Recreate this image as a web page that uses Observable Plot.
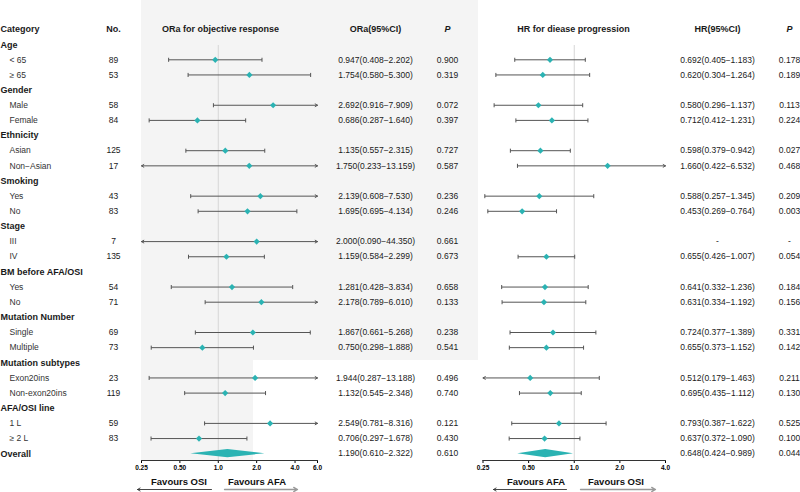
<!DOCTYPE html>
<html><head><meta charset="utf-8">
<script src="https://cdn.jsdelivr.net/npm/d3@7"></script>
<script src="https://cdn.jsdelivr.net/npm/@observablehq/plot@0.6"></script>
<style>
html,body{margin:0;padding:0;background:#fff;}
#chart{position:relative;width:800px;height:492px;overflow:hidden;}
#chart svg{position:absolute;left:0;top:0;}
.bg{position:absolute;background:#f4f4f4;}
</style></head><body>
<div id="chart">
<div class="bg" style="left:141px;top:0;width:337px;height:360px"></div>
<div class="bg" style="left:141px;top:360px;width:112px;height:100px"></div>
</div>
<script>
// ---------- data ----------
const rowLabels = ["Age","< 65","≥ 65","Gender","Male","Female","Ethnicity","Asian","Non−Asian","Smoking","Yes","No","Stage","III","IV","BM before AFA/OSI","Yes","No","Mutation Number","Single","Multiple","Mutation subtypes","Exon20ins","Non-exon20ins","AFA/OSI line","1 L","≥ 2 L","Overall"];
const isGroup   = [1,0,0,1,0,0,1,0,0,1,0,0,1,0,0,1,0,0,1,0,0,1,0,0,1,0,0,1];
const nPatients = [null,89,53,null,58,84,null,125,17,null,43,83,null,7,135,null,54,71,null,69,73,null,23,119,null,59,83,null];

const orEst = [null,0.947,1.754,null,2.692,0.686,null,1.135,1.750,null,2.139,1.695,null,2.000,1.159,null,1.281,2.178,null,1.867,0.750,null,1.944,1.132,null,2.549,0.706,1.190];
const orLo  = [null,0.408,0.580,null,0.916,0.287,null,0.557,0.233,null,0.608,0.695,null,0.090,0.584,null,0.428,0.789,null,0.661,0.298,null,0.287,0.545,null,0.781,0.297,0.610];
const orHi  = [null,2.202,5.300,null,7.909,1.640,null,2.315,13.159,null,7.530,4.134,null,44.350,2.299,null,3.834,6.010,null,5.268,1.888,null,13.188,2.348,null,8.316,1.678,2.322];
const orP   = [null,0.900,0.319,null,0.072,0.397,null,0.727,0.587,null,0.236,0.246,null,0.661,0.673,null,0.658,0.133,null,0.238,0.541,null,0.496,0.740,null,0.121,0.430,0.610];

const hrEst = [null,0.692,0.620,null,0.580,0.712,null,0.598,1.660,null,0.588,0.453,null,null,0.655,null,0.641,0.631,null,0.724,0.655,null,0.512,0.695,null,0.793,0.637,0.648];
const hrLo  = [null,0.405,0.304,null,0.296,0.412,null,0.379,0.422,null,0.257,0.269,null,null,0.426,null,0.332,0.334,null,0.377,0.373,null,0.179,0.435,null,0.387,0.372,0.424];
const hrHi  = [null,1.183,1.264,null,1.137,1.231,null,0.942,6.532,null,1.345,0.764,null,null,1.007,null,1.236,1.192,null,1.389,1.152,null,1.463,1.112,null,1.622,1.090,0.989];
const hrP   = [null,0.178,0.189,null,0.113,0.224,null,0.027,0.468,null,0.209,0.003,null,null,0.054,null,0.184,0.156,null,0.331,0.142,null,0.211,0.130,null,0.525,0.100,0.044];

const orTicks = [0.25,0.5,1,2,4,6];
const orTickLabels = ["0.25","0.50","1.0","2.0","4.0","6.0"];
const hrTicks = [0.25,0.5,1,2,4];
const hrTickLabels = ["0.25","0.50","1.0","2.0","4.0"];

// ---------- layout / style ----------
const FONT = '"Liberation Sans", Arial, Helvetica, sans-serif';
const TEAL = "#2bb3b3";
const LINE = "#555";
const Y = {domain:[0,28], range:[29,453.2], axis:null};
const COL = {label:0, sub:9, n:113, orHead:220, orCI:375, orP:447, hrHead:573, hrCI:717, hrP:789};

const f3 = d3.format(".3f");
const rows = rowLabels.map((label,i)=>({
  row:i+1, label, group:!!isGroup[i], n:nPatients[i],
  orEst:orEst[i], orLo:orLo[i], orHi:orHi[i], orP:orP[i],
  hrEst:hrEst[i], hrLo:hrLo[i], hrHi:hrHi[i], hrP:hrP[i]
}));
const ciText = (e,l,h)=> e==null ? "-" : `${f3(e)}(${f3(l)}−${f3(h)})`;
const pText = p => p==null ? "-" : f3(p);

const chart = document.getElementById("chart");
const capSymbol = {draw(ctx,size){const h=Math.sqrt(size)/2; ctx.moveTo(0,-h); ctx.lineTo(0,h);}};

function forest(key, dom, ticks, tickLabels, mLeft, mRight){
  const data = rows.filter(r=>r[key+"Est"]!=null);
  const pts = data.filter(r=>r.label!=="Overall");
  const overall = data.find(r=>r.label==="Overall");
  const segs = [];
  for(const r of pts){
    const e=r[key+"Est"], l=r[key+"Lo"], h=r[key+"Hi"];
    segs.push({row:r.row, x1:e, x2:Math.max(l,dom[0]), clip:l<dom[0]});
    segs.push({row:r.row, x1:e, x2:Math.min(h,dom[1]), clip:h>dom[1]});
  }
  const hh = 0.27;
  const dia = [
    {x:overall[key+"Lo"], y1:overall.row, y2:overall.row},
    {x:overall[key+"Est"], y1:overall.row-hh, y2:overall.row+hh},
    {x:overall[key+"Hi"], y1:overall.row, y2:overall.row}
  ];
  return Plot.plot({
    width:800, height:492, marginTop:45, marginBottom:32, marginLeft:mLeft, marginRight:mRight,
    style:{background:"transparent", fontFamily:FONT, overflow:"visible"},
    x:{type:"log", domain:dom, label:null},
    y:Y,
    marks:[
      Plot.ruleX([1],{stroke:"#d6d6d6"}),
      Plot.link(segs.filter(s=>!s.clip),{x1:"x1",x2:"x2",y1:"row",y2:"row",stroke:LINE,strokeWidth:1}),
      Plot.arrow(segs.filter(s=>s.clip),{x1:"x1",x2:"x2",y1:"row",y2:"row",stroke:LINE,strokeWidth:1,headLength:4}),
      Plot.dot(segs.filter(s=>!s.clip),{x:"x2",y:"row",symbol:capSymbol,r:2.3,stroke:LINE,fill:"none",strokeWidth:1}),
      Plot.dot(pts,{x:key+"Est",y:"row",symbol:"diamond2",r:2.8,fill:TEAL,stroke:"none"}),
      Plot.areaY(dia,{x:"x",y1:"y1",y2:"y2",fill:TEAL}),
      Plot.axisX({anchor:"bottom",ticks,tickFormat:d=>tickLabels[ticks.indexOf(d)],tickSize:3,tickPadding:2,fontSize:6.5,fontWeight:"bold",label:null}),
      Plot.frame({anchor:"bottom",stroke:"#333"})
    ]
  });
}

chart.append(forest("or",[0.25,6],orTicks,orTickLabels,141,483));
chart.append(forest("hr",[0.25,4],hrTicks,hrTickLabels,482.5,135));

// ---------- table text ----------
const headers = [
  {text:"Category",x:COL.label,anchor:"start"},
  {text:"No.",x:COL.n,anchor:"middle"},
  {text:"ORa for objective response",x:COL.orHead,anchor:"middle"},
  {text:"ORa(95%CI)",x:COL.orCI,anchor:"middle"},
  {text:"HR for diease progression",x:COL.hrHead,anchor:"middle"},
  {text:"HR(95%CI)",x:COL.hrCI,anchor:"middle"}
];
const pHeaders = [{text:"P",x:COL.orP},{text:"P",x:COL.hrP}];
const valRows = rows.filter(r=>r.orEst!=null);
const txt = {fill:"#1a1a1a"};
const table = Plot.plot({
  width:800, height:492, margin:0,
  style:{background:"transparent", fontFamily:FONT, overflow:"visible"},
  x:{type:"identity", axis:null}, y:Y,
  marks:[
    Plot.text(headers.filter(h=>h.anchor==="start"),{x:"x",y:()=>0,text:"text",textAnchor:"start",fontWeight:"bold",fontSize:9,...txt}),
    Plot.text(headers.filter(h=>h.anchor==="middle"),{x:"x",y:()=>0,text:"text",fontWeight:"bold",fontSize:9,...txt}),
    Plot.text(pHeaders,{x:"x",y:()=>0,text:"text",fontWeight:"bold",fontStyle:"italic",fontSize:9,...txt}),
    Plot.text(rows.filter(r=>r.group),{x:()=>COL.label,y:"row",text:"label",textAnchor:"start",fontWeight:"bold",fontSize:9,...txt}),
    Plot.text(rows.filter(r=>!r.group),{x:()=>COL.sub,y:"row",text:"label",textAnchor:"start",fontSize:8.5,fill:"#333"}),
    Plot.text(rows.filter(r=>r.n!=null),{x:()=>COL.n,y:"row",text:"n",fontSize:8.5,...txt}),
    Plot.text(valRows,{x:()=>COL.orCI,y:"row",text:r=>ciText(r.orEst,r.orLo,r.orHi),fontSize:8.5,...txt}),
    Plot.text(valRows,{x:()=>COL.orP,y:"row",text:r=>pText(r.orP),fontSize:8.5,...txt}),
    Plot.text(valRows,{x:()=>COL.hrCI,y:"row",text:r=>ciText(r.hrEst,r.hrLo,r.hrHi),fontSize:8.5,...txt}),
    Plot.text(valRows,{x:()=>COL.hrP,y:"row",text:r=>pText(r.hrP),fontSize:8.5,...txt})
  ]
});
chart.append(table);

// ---------- favours annotations ----------
const favText = [
  {text:"Favours OSI",x:178.5,y:481.5},
  {text:"Favours AFA",x:256.5,y:481.5},
  {text:"Favours AFA",x:535.5,y:481.5},
  {text:"Favours OSI",x:615.5,y:481.5}
];
const favDark = [{x1:211,x2:137,y:489},{x1:566,x2:493,y:489}];
const favLight = [{x1:224,x2:297,y:489},{x1:580,x2:655,y:489}];
const ann = Plot.plot({
  width:800, height:492, margin:0,
  style:{background:"transparent", fontFamily:FONT, overflow:"visible"},
  x:{type:"identity", axis:null}, y:{type:"identity", axis:null},
  marks:[
    Plot.text(favText,{x:"x",y:"y",text:"text",fontWeight:"bold",fontSize:9.5,fill:"#111"}),
    Plot.arrow(favDark,{x1:"x1",x2:"x2",y1:"y",y2:"y",stroke:"#333",strokeWidth:0.9,headLength:5}),
    Plot.arrow(favLight,{x1:"x1",x2:"x2",y1:"y",y2:"y",stroke:"#999",strokeWidth:1.3,headLength:5})
  ]
});
chart.append(ann);
</script>
</body></html>
